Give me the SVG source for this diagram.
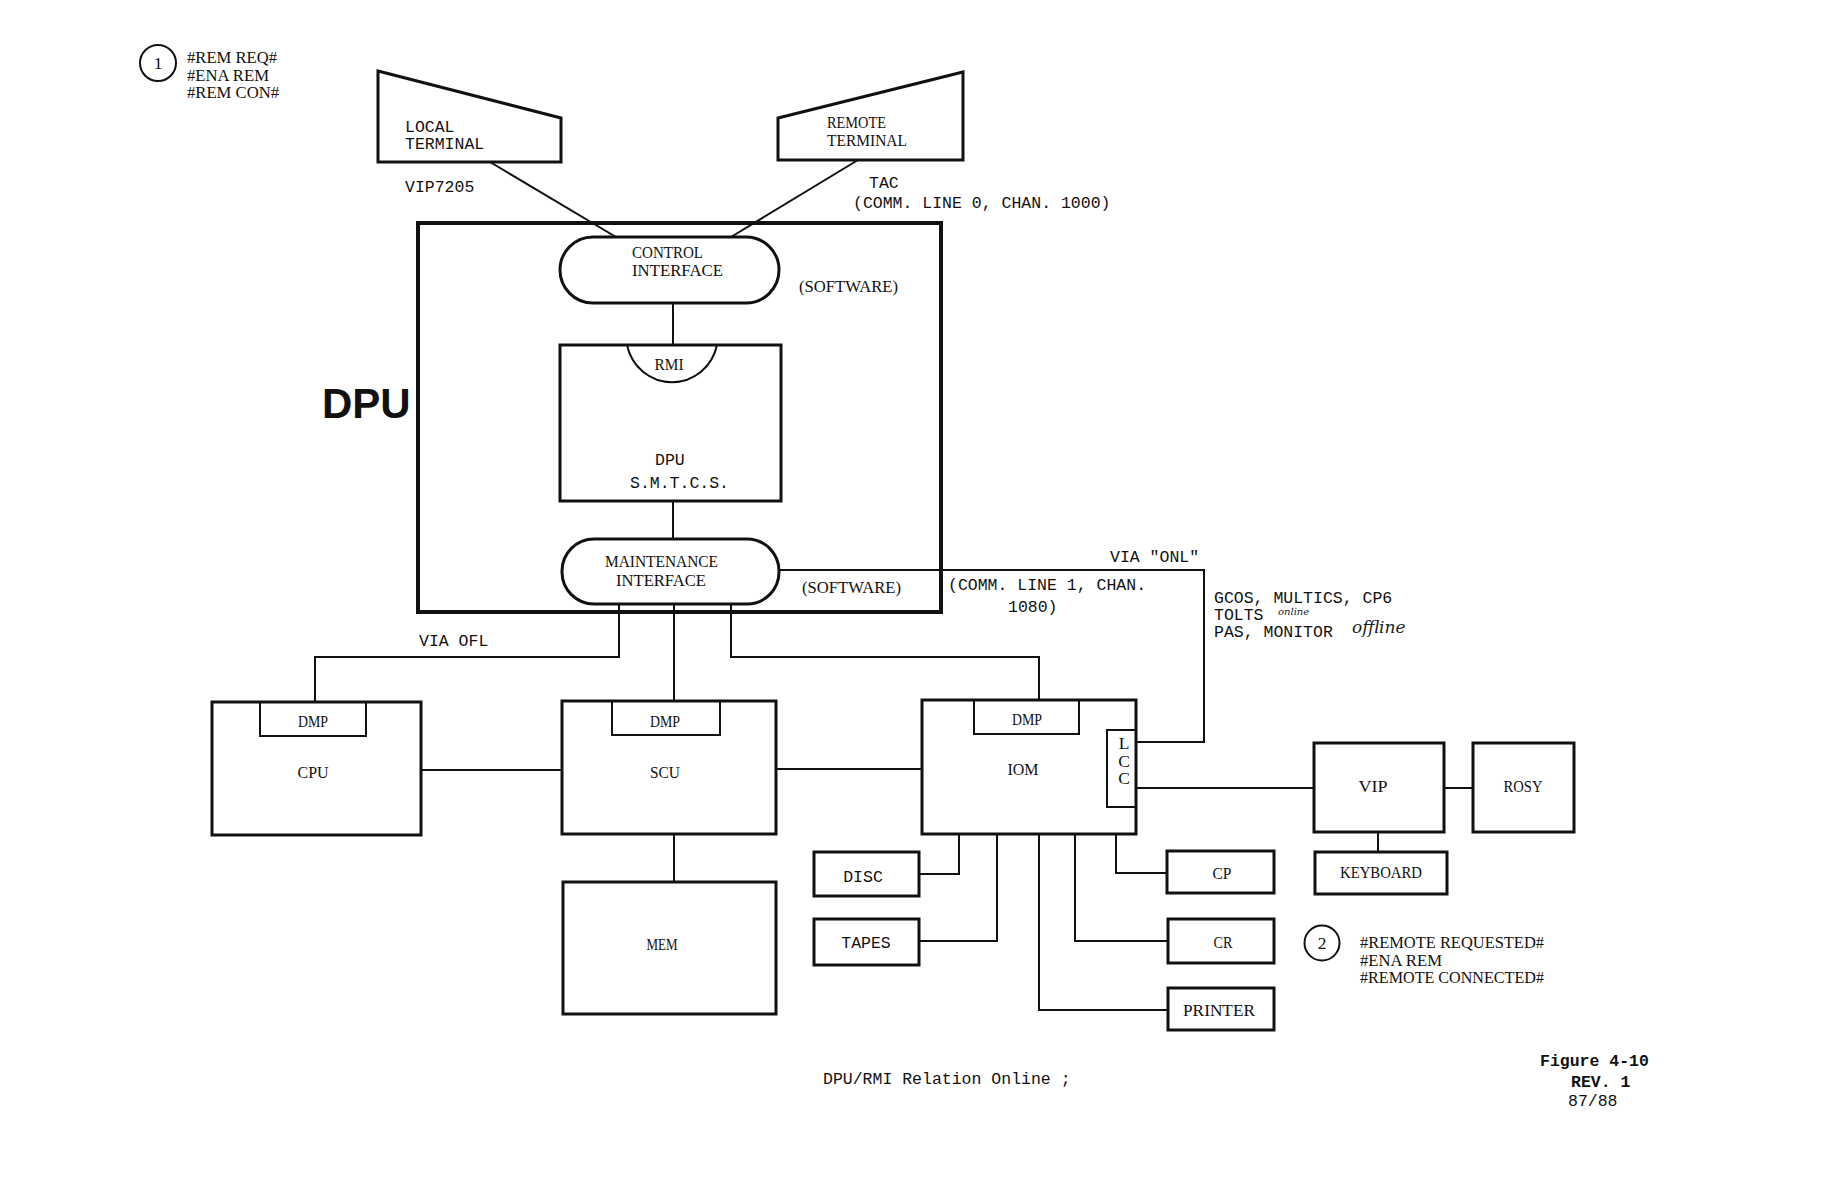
<svg xmlns="http://www.w3.org/2000/svg" width="1836" height="1188" viewBox="0 0 1836 1188">
<style>
  .t { font-family: "Liberation Mono", "DejaVu Sans Mono", monospace; font-size: 16.5px; fill: #111; }
  .s { font-family: "Liberation Serif", "DejaVu Serif", serif; font-size: 17.5px; fill: #111; }
  .c { text-anchor: middle; }
  .box { fill: none; stroke: #111; stroke-width: 3; }
  .thin { fill: none; stroke: #111; stroke-width: 2; }
  .conn line, .conn polyline { fill: none; stroke: #111; stroke-width: 2; }
  .hand { font-family: "DejaVu Serif", "Liberation Serif", serif; font-style: italic; fill: #222; }
</style>
<rect width="1836" height="1188" fill="#fff"/>

<g id="connectors" class="conn">
  <line x1="490" y1="162" x2="616" y2="237"/>
  <line x1="858" y1="160" x2="731" y2="237"/>
  <line x1="673" y1="303" x2="673" y2="345"/>
  <line x1="673" y1="501" x2="673" y2="539"/>
  <polyline points="779,570 1204,570 1204,742 1136,742"/>
  <polyline points="619,603 619,657 315,657 315,701"/>
  <line x1="674" y1="604" x2="674" y2="700"/>
  <polyline points="731,603 731,657 1039,657 1039,700"/>
  <line x1="421" y1="770" x2="562" y2="770"/>
  <line x1="776" y1="769" x2="922" y2="769"/>
  <line x1="674" y1="834" x2="674" y2="882"/>
  <line x1="1136" y1="788" x2="1314" y2="788"/>
  <line x1="1444" y1="788" x2="1473" y2="788"/>
  <line x1="1378" y1="832" x2="1378" y2="852"/>
  <polyline points="959,834 959,874 919,874"/>
  <polyline points="997,834 997,941 919,941"/>
  <polyline points="1039,834 1039,1010 1168,1010"/>
  <polyline points="1075,834 1075,941 1168,941"/>
  <polyline points="1116,834 1116,873 1167,873"/>
</g>

<g id="note1">
  <circle cx="158" cy="63" r="18" class="thin"/>
  <text x="158" y="69" class="s c">1</text>
  <text x="187" y="63" class="s" textLength="90" lengthAdjust="spacingAndGlyphs">#REM REQ#</text>
  <text x="187" y="81" class="s" textLength="82" lengthAdjust="spacingAndGlyphs">#ENA REM</text>
  <text x="187" y="98" class="s" textLength="92" lengthAdjust="spacingAndGlyphs">#REM CON#</text>
</g>

<g id="local-terminal">
  <polygon points="378,71 561,118 561,162 378,162" class="box"/>
  <text x="405" y="132" class="t">LOCAL</text>
  <text x="405" y="149" class="t">TERMINAL</text>
  <text x="405" y="192" class="t">VIP7205</text>
</g>

<g id="remote-terminal">
  <polygon points="778,118 963,72 963,160 778,160" class="box"/>
  <text x="827" y="128" class="s" textLength="59" lengthAdjust="spacingAndGlyphs">REMOTE</text>
  <text x="827" y="146" class="s" textLength="80" lengthAdjust="spacingAndGlyphs">TERMINAL</text>
  <text x="869" y="188" class="t">TAC</text>
  <text x="853" y="208" class="t">(COMM. LINE 0, CHAN. 1000)</text>
</g>

<g id="dpu">
  <rect x="418" y="223" width="523" height="389" fill="none" stroke="#111" stroke-width="4"/>
  <text x="322" y="418" font-family="Liberation Sans, Arial, sans-serif" font-weight="bold" font-size="42" fill="#111">DPU</text>
</g>

<g id="control-interface">
  <rect x="560" y="237" width="219" height="66" rx="33" ry="33" class="box"/>
  <text x="632" y="258" class="s" textLength="71" lengthAdjust="spacingAndGlyphs">CONTROL</text>
  <text x="632" y="276" class="s" textLength="91" lengthAdjust="spacingAndGlyphs">INTERFACE</text>
  <text x="799" y="292" class="s" textLength="99" lengthAdjust="spacingAndGlyphs">(SOFTWARE)</text>
</g>

<g id="dpu-smtcs">
  <rect x="560" y="345" width="221" height="156" class="box"/>
  <path d="M627,345 A46,47 0 0 0 717,345" class="thin"/>
  <text x="669" y="370" class="s c" textLength="29" lengthAdjust="spacingAndGlyphs">RMI</text>
  <text x="655" y="465" class="t">DPU</text>
  <text x="630" y="488" class="t">S.M.T.C.S.</text>
</g>

<g id="maintenance-interface">
  <rect x="562" y="539" width="217" height="65" rx="32" ry="32" class="box"/>
  <text x="605" y="567" class="s" textLength="113" lengthAdjust="spacingAndGlyphs">MAINTENANCE</text>
  <text x="616" y="586" class="s" textLength="90" lengthAdjust="spacingAndGlyphs">INTERFACE</text>
  <text x="802" y="593" class="s" textLength="99" lengthAdjust="spacingAndGlyphs">(SOFTWARE)</text>
</g>

<g id="labels">
  <text x="1110" y="562" class="t">VIA "ONL"</text>
  <text x="948" y="590" class="t">(COMM. LINE 1, CHAN.</text>
  <text x="1008" y="612" class="t">1080)</text>
  <text x="1214" y="603" class="t">GCOS, MULTICS, CP6</text>
  <text x="1214" y="620" class="t">TOLTS</text>
  <text x="1278" y="615" class="hand" font-size="10">online</text>
  <text x="1214" y="637" class="t">PAS, MONITOR</text>
  <text x="1352" y="633" class="hand" font-size="17">offline</text>
  <text x="419" y="646" class="t">VIA OFL</text>
</g>

<g id="cpu">
  <rect x="212" y="702" width="209" height="133" class="box"/>
  <rect x="260" y="702" width="106" height="34" class="thin"/>
  <text x="313" y="727" class="s c" textLength="30" lengthAdjust="spacingAndGlyphs">DMP</text>
  <text x="313" y="778" class="s c" textLength="31" lengthAdjust="spacingAndGlyphs">CPU</text>
</g>

<g id="scu">
  <rect x="562" y="701" width="214" height="133" class="box"/>
  <rect x="612" y="701" width="108" height="34" class="thin"/>
  <text x="665" y="727" class="s c" textLength="30" lengthAdjust="spacingAndGlyphs">DMP</text>
  <text x="665" y="778" class="s c" textLength="30" lengthAdjust="spacingAndGlyphs">SCU</text>
</g>

<g id="iom">
  <rect x="922" y="700" width="214" height="134" class="box"/>
  <rect x="974" y="700" width="105" height="34" class="thin"/>
  <text x="1027" y="725" class="s c" textLength="30" lengthAdjust="spacingAndGlyphs">DMP</text>
  <text x="1023" y="775" class="s c" textLength="31" lengthAdjust="spacingAndGlyphs">IOM</text>
  <rect x="1107" y="730" width="29" height="77" class="thin"/>
  <text x="1124" y="749" class="s c">L</text>
  <text x="1124" y="767" class="s c">C</text>
  <text x="1124" y="784" class="s c">C</text>
</g>

<g id="mem">
  <rect x="563" y="882" width="213" height="132" class="box"/>
  <text x="662" y="950" class="s c" textLength="31" lengthAdjust="spacingAndGlyphs">MEM</text>
</g>

<g id="vip">
  <rect x="1314" y="743" width="130" height="89" class="box"/>
  <text x="1373" y="792" class="s c" textLength="29" lengthAdjust="spacingAndGlyphs">VIP</text>
</g>

<g id="rosy">
  <rect x="1473" y="743" width="101" height="89" class="box"/>
  <text x="1523" y="792" class="s c" textLength="39" lengthAdjust="spacingAndGlyphs">ROSY</text>
</g>

<g id="keyboard">
  <rect x="1315" y="852" width="132" height="42" class="box"/>
  <text x="1381" y="878" class="s c" textLength="82" lengthAdjust="spacingAndGlyphs">KEYBOARD</text>
</g>

<g id="disc">
  <rect x="814" y="852" width="105" height="44" class="box"/>
  <text x="863" y="882" class="t c">DISC</text>
</g>

<g id="tapes">
  <rect x="814" y="919" width="105" height="46" class="box"/>
  <text x="866" y="948" class="t c">TAPES</text>
</g>

<g id="cp">
  <rect x="1167" y="851" width="107" height="42" class="box"/>
  <text x="1222" y="879" class="s c" textLength="19" lengthAdjust="spacingAndGlyphs">CP</text>
</g>

<g id="cr">
  <rect x="1168" y="919" width="106" height="44" class="box"/>
  <text x="1223" y="948" class="s c" textLength="19" lengthAdjust="spacingAndGlyphs">CR</text>
</g>

<g id="printer">
  <rect x="1168" y="988" width="106" height="42" class="box"/>
  <text x="1219" y="1016" class="s c" textLength="72" lengthAdjust="spacingAndGlyphs">PRINTER</text>
</g>

<g id="note2">
  <circle cx="1322" cy="943" r="17.5" class="thin"/>
  <text x="1322" y="949" class="s c">2</text>
  <text x="1360" y="948" class="s" textLength="184" lengthAdjust="spacingAndGlyphs">#REMOTE REQUESTED#</text>
  <text x="1360" y="966" class="s" textLength="82" lengthAdjust="spacingAndGlyphs">#ENA REM</text>
  <text x="1360" y="983" class="s" textLength="184" lengthAdjust="spacingAndGlyphs">#REMOTE CONNECTED#</text>
</g>

<g id="caption">
  <text x="823" y="1084" class="t">DPU/RMI Relation Online ;</text>
  <text x="1540" y="1066" class="t" font-weight="bold">Figure 4-10</text>
  <text x="1571" y="1087" class="t" font-weight="bold">REV. 1</text>
  <text x="1568" y="1106" class="t">87/88</text>
</g>
</svg>
